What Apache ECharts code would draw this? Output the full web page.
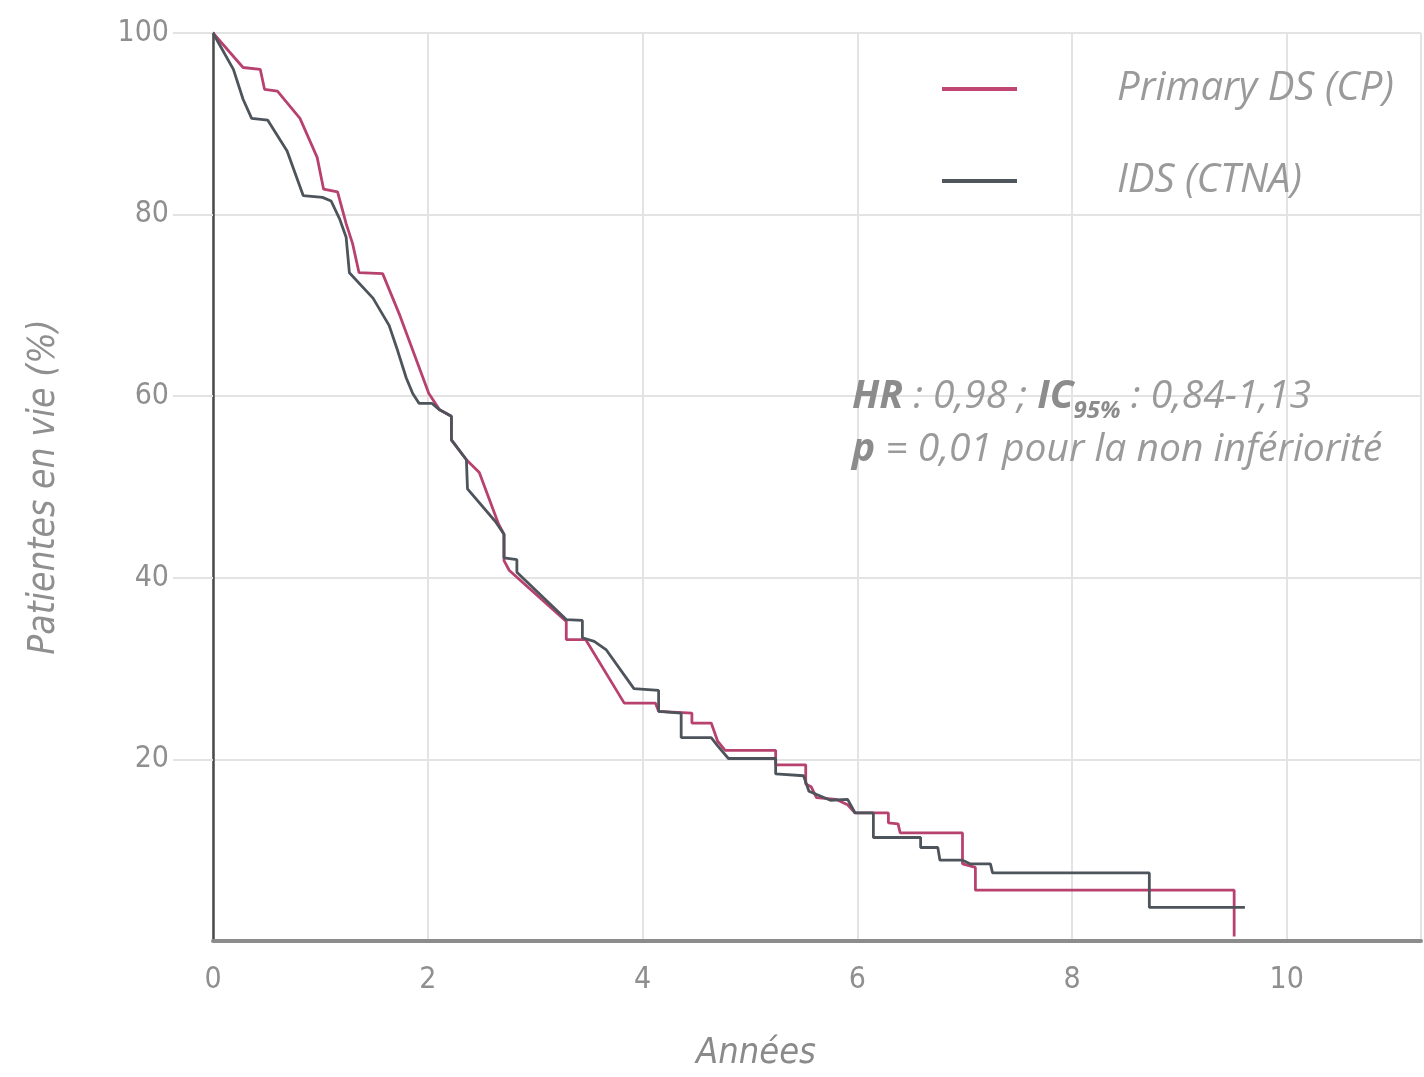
<!DOCTYPE html>
<html>
<head>
<meta charset="utf-8">
<script src="https://cdn.jsdelivr.net/npm/echarts@6/dist/echarts.min.js"></script>
<style>
html,body{margin:0;padding:0;background:#fff;}
#chart{width:1424px;height:1077px;}
</style>
</head>
<body>
<div id="chart"></div>
<script>
// Data (x = years, y = % of patients alive)
var seriesNames = ['Primary DS (CP)', 'IDS (CTNA)'];
var xTicks = [0, 2, 4, 6, 8, 10];
var yTicks = [20, 40, 60, 80, 100];

var cpData = [
  [0,100],[0.28,96.2],[0.44,96.0],[0.48,93.8],[0.60,93.6],[0.81,90.6],[0.97,86.3],
  [1.03,82.8],[1.16,82.5],[1.24,79.0],[1.30,76.8],[1.36,73.6],[1.58,73.5],[1.74,68.9],
  [2.01,60.3],[2.11,58.5],[2.22,57.8],[2.22,55.2],[2.36,53.0],[2.48,51.6],[2.66,45.9],
  [2.71,44.8],[2.71,41.9],[2.76,40.8],[3.29,35.2],[3.29,33.2],[3.47,33.2],[3.83,26.2],
  [4.12,26.2],[4.15,25.3],[4.46,25.1],[4.46,24.0],[4.64,24.0],[4.70,22.0],[4.77,21.0],
  [5.24,21.0],[5.24,19.4],[5.52,19.4],[5.52,17.3],[5.57,17.0],[5.62,15.8],[5.80,15.6],
  [5.91,15.0],[5.98,14.1],[6.29,14.1],[6.29,13.0],[6.38,12.9],[6.40,11.9],[6.98,11.9],
  [6.98,8.5],[7.10,8.1],[7.10,5.6],[9.51,5.6],[9.51,0.5]
];

var ctnaData = [
  [0,100],[0.19,96.0],[0.28,92.7],[0.36,90.6],[0.51,90.4],[0.69,87.0],[0.84,82.1],
  [1.02,81.9],[1.10,81.5],[1.18,79.5],[1.24,77.5],[1.27,73.6],[1.49,70.8],[1.64,67.8],
  [1.72,65.0],[1.80,62.0],[1.86,60.3],[1.92,59.2],[2.04,59.2],[2.11,58.5],[2.22,57.8],
  [2.22,55.2],[2.36,53.0],[2.37,49.8],[2.63,46.2],[2.71,44.8],[2.71,42.2],[2.83,42.0],
  [2.83,40.6],[3.29,35.4],[3.44,35.3],[3.44,33.4],[3.55,33.0],[3.66,32.1],[3.92,27.8],
  [4.15,27.6],[4.15,25.3],[4.36,25.1],[4.36,22.4],[4.64,22.4],[4.70,21.5],[4.80,20.1],
  [5.24,20.1],[5.24,18.4],[5.50,18.2],[5.55,16.5],[5.75,15.5],[5.91,15.6],[5.98,14.1],
  [6.15,14.1],[6.15,11.4],[6.59,11.4],[6.59,10.3],[6.75,10.3],[6.77,8.9],[6.98,8.9],
  [7.05,8.5],[7.24,8.5],[7.26,7.5],[8.72,7.5],[8.72,3.7],[9.61,3.7]
];

var chart = echarts.init(document.getElementById('chart'));
var narrow = "'Liberation Sans Narrow', 'DejaVu Sans Condensed', sans-serif";
var txtFont = "'Open Sans', sans-serif";
var option = {
  animation: false,
  backgroundColor: '#ffffff',
  grid: {left: 213, top: 33, width: 1211, height: 924},
  title: {
    left: 852, top: 370, padding: 0,
    text: '{b|HR}{n| : 0,98 ; }{b|IC}{s|95%}{n| : 0,84-1,13}\n{b|p}{n| = 0,01 pour la non infériorité}',
    textStyle: {
      fontWeight: 'normal',
      rich: {
        b: {fontSize: 39, fontWeight: 'bold', fontStyle: 'italic', color: '#8c8c8c', fontFamily: txtFont, lineHeight: 53},
        n: {fontSize: 39, fontWeight: 'normal', fontStyle: 'italic', color: '#9a9a9a', fontFamily: txtFont, lineHeight: 53},
        s: {fontSize: 24, fontWeight: 'bold', fontStyle: 'italic', color: '#8c8c8c', fontFamily: txtFont, lineHeight: 53, verticalAlign: 'bottom'}
      }
    }
  },
  legend: {
    data: seriesNames,
    orient: 'vertical',
    left: 937,
    top: 62,
    itemWidth: 75,
    itemHeight: 4,
    icon: 'rect',
    itemGap: 48,
    textStyle: {fontSize: 40, lineHeight: 44, fontStyle: 'italic', color: '#9a9a9a', fontFamily: txtFont, padding: [0,0,0,95]}
  },
  xAxis: {
    type: 'value', min: 0, max: 11.25, interval: 2,
    axisLine: {show: true, lineStyle: {color: '#8c8c8c', width: 4}},
    axisTick: {show: false},
    axisLabel: {
      margin: 24, fontSize: 30, color: '#8f8f8f', fontFamily: narrow,
      formatter: function (v) { return xTicks.indexOf(v) >= 0 ? String(v) : ''; }
    },
    splitLine: {show: true, lineStyle: {color: '#e3e3e3', width: 2}},
    name: 'Années', nameLocation: 'middle', nameGap: 95,
    nameTextStyle: {fontSize: 36, fontStyle: 'italic', color: '#8a8a8a', fontFamily: narrow, padding: [0, 122, 0, 0]}
  },
  yAxis: {
    type: 'value', min: 0, max: 100, interval: 20,
    axisLine: {show: true, lineStyle: {color: '#4a4a4a', width: 2.5}},
    axisTick: {show: true, length: 40, lineStyle: {color: '#e3e3e3', width: 2}},
    axisLabel: {
      margin: 44, fontSize: 30, color: '#8f8f8f', fontFamily: narrow, showMinLabel: false,
      formatter: function (v) { return yTicks.indexOf(v) >= 0 ? String(v) : ''; }
    },
    splitLine: {show: true, lineStyle: {color: '#e3e3e3', width: 2}},
    name: 'Patientes en vie (%)', nameLocation: 'middle', nameGap: 150, nameRotate: 90,
    nameTextStyle: {fontSize: 37, fontStyle: 'italic', color: '#8f8f8f', fontFamily: narrow}
  },
  series: [
    {name: seriesNames[0], type: 'line', data: cpData, showSymbol: false, symbol: 'none', color: '#c04673',
     lineStyle: {width: 2.8, color: '#b8426f'}, z: 3},
    {name: seriesNames[1], type: 'line', data: ctnaData, showSymbol: false, symbol: 'none', color: '#50565e',
     lineStyle: {width: 2.8, color: '#4d545c'}, z: 3}
  ]
};
chart.setOption(option);
</script>
</body>
</html>
